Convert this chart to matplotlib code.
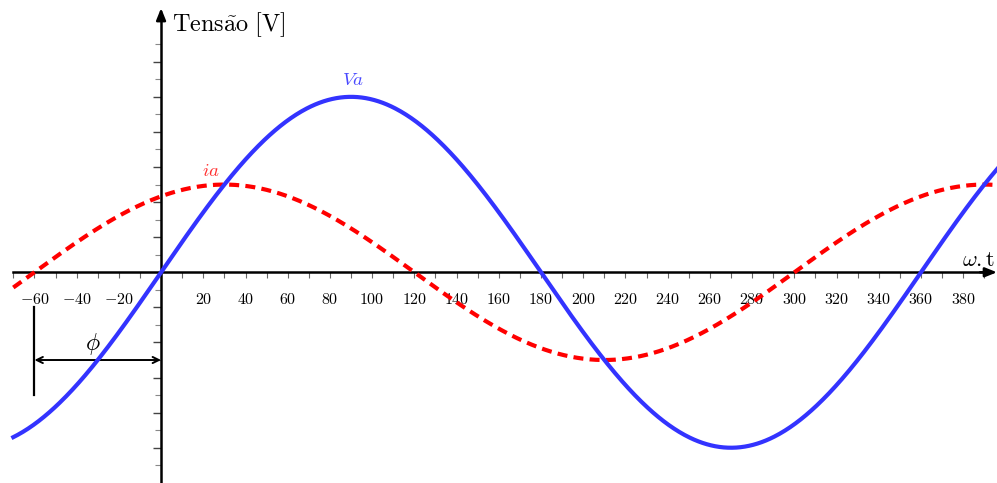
import numpy as np
import matplotlib
matplotlib.use("Agg")
import matplotlib.pyplot as plt
from matplotlib.ticker import FixedLocator, FixedFormatter

plt.rcParams['mathtext.fontset'] = 'cm'
plt.rcParams['font.family'] = ['DejaVu Serif']

# ---- data ----
va_amplitude = 1.0          # Va peak (normalised)
ia_amplitude = 0.5          # ia peak relative to Va
ia_phase_deg = 60.0         # ia leads Va by phi = 60 degrees
x_start, x_end = -70, 400   # plotted angle range (degrees)

x_tick_values = [-60, -40, -20, 20, 40, 60, 80, 100, 120, 140, 160, 180, 200,
                 220, 240, 260, 280, 300, 320, 340, 360, 380]
x_minor_ticks = list(range(-70, 391, 10))
y_major_ticks = [-1.0, -0.8, -0.6, -0.4, -0.2, 0.2, 0.4, 0.6, 0.8, 1.0, 1.2]
y_minor_ticks = [-1.1, -0.9, -0.7, -0.5, -0.3, -0.1, 0.1, 0.3, 0.5, 0.7, 0.9, 1.1, 1.3]
phi_marker = (-60, 0)       # phase arrow between these angles

theta = np.linspace(x_start, x_end, 941)
va = va_amplitude * np.sin(np.radians(theta))
ia = ia_amplitude * np.sin(np.radians(theta + ia_phase_deg))

fig = plt.figure(figsize=(9.97, 4.83), dpi=100)
ax = fig.add_axes([0, 0, 1, 1])
ax.set_xlim(-76.3, 396.0)
ax.set_ylim(-1.201, 1.552)
ax.patch.set_alpha(0)

# spines as axes through origin
for s in ['top', 'right']:
    ax.spines[s].set_visible(False)
ax.spines['bottom'].set_position(('data', 0))
ax.spines['left'].set_position(('data', 0))
ax.spines['bottom'].set_bounds(-70, 392)
ax.spines['left'].set_bounds(-1.201, 1.47)
ax.spines['bottom'].set_linewidth(1.8)
ax.spines['left'].set_linewidth(1.8)

# arrow heads
ax.annotate('', xy=(396.0, 0), xytext=(388, 0),
            arrowprops=dict(arrowstyle='-|>,head_length=0.7,head_width=0.28',
                            color='k', lw=1.8, shrinkA=0, shrinkB=0), zorder=4)
ax.annotate('', xy=(0, 1.506), xytext=(0, 1.44),
            arrowprops=dict(arrowstyle='-|>,head_length=0.7,head_width=0.28',
                            color='k', lw=1.8, shrinkA=0, shrinkB=0), zorder=4)

# x ticks
ax.xaxis.set_major_locator(FixedLocator(x_tick_values))
ax.xaxis.set_major_formatter(FixedFormatter([rf"${v}$" for v in x_tick_values]))
ax.xaxis.set_minor_locator(FixedLocator(x_minor_ticks))
ax.tick_params(axis='x', which='both', direction='out', length=4, width=0.8,
               color='#666666', labelsize=11.5, pad=9.5)
# y ticks
ax.yaxis.set_major_locator(FixedLocator(y_major_ticks))
ax.yaxis.set_major_formatter(FixedFormatter([''] * len(y_major_ticks)))
ax.yaxis.set_minor_locator(FixedLocator(y_minor_ticks))
ax.tick_params(axis='y', which='major', direction='out', length=6, width=1.0, color='#444444')
ax.tick_params(axis='y', which='minor', direction='out', length=4, width=0.8, color='#888888')

# curves
ax.plot(theta, ia, color='#ff0000', lw=3.0, dashes=(2.4, 1.5), zorder=5, clip_on=True)
ax.plot(theta, va, color='#3333ff', lw=3.0, zorder=6, clip_on=True)

# labels
ax.text(90.9, 1.096, r"$Va$", color='#4a4aff', fontsize=13.5, ha='center', va='center', zorder=7)
ax.text(23.6, 0.577, r"$ia$", color='#ff3030', fontsize=13.5, ha='center', va='center', zorder=7)
ax.text(5.1, 1.409, r"$\mathrm{Tens\tilde{a}o\ [V]}$", fontsize=17.5, ha='left', va='center', zorder=7)
ax.text(379.3, 0.07, r"$\omega.\mathrm{t}$", fontsize=16, ha='left', va='center', zorder=7)

# phase phi annotation
ax.plot([phi_marker[0], phi_marker[0]], [-0.2, -0.7], color='k', lw=1.6, zorder=4)
ax.annotate('', xy=(phi_marker[1], -0.5), xytext=(phi_marker[0], -0.5),
            arrowprops=dict(arrowstyle='<->,head_length=0.45,head_width=0.22',
                            color='k', lw=1.4, shrinkA=0, shrinkB=0), zorder=4)
ax.text(-32.3, -0.409, r"$\phi$", fontsize=17, ha='center', va='center', zorder=7)

fig.savefig('out.png', dpi=100)
